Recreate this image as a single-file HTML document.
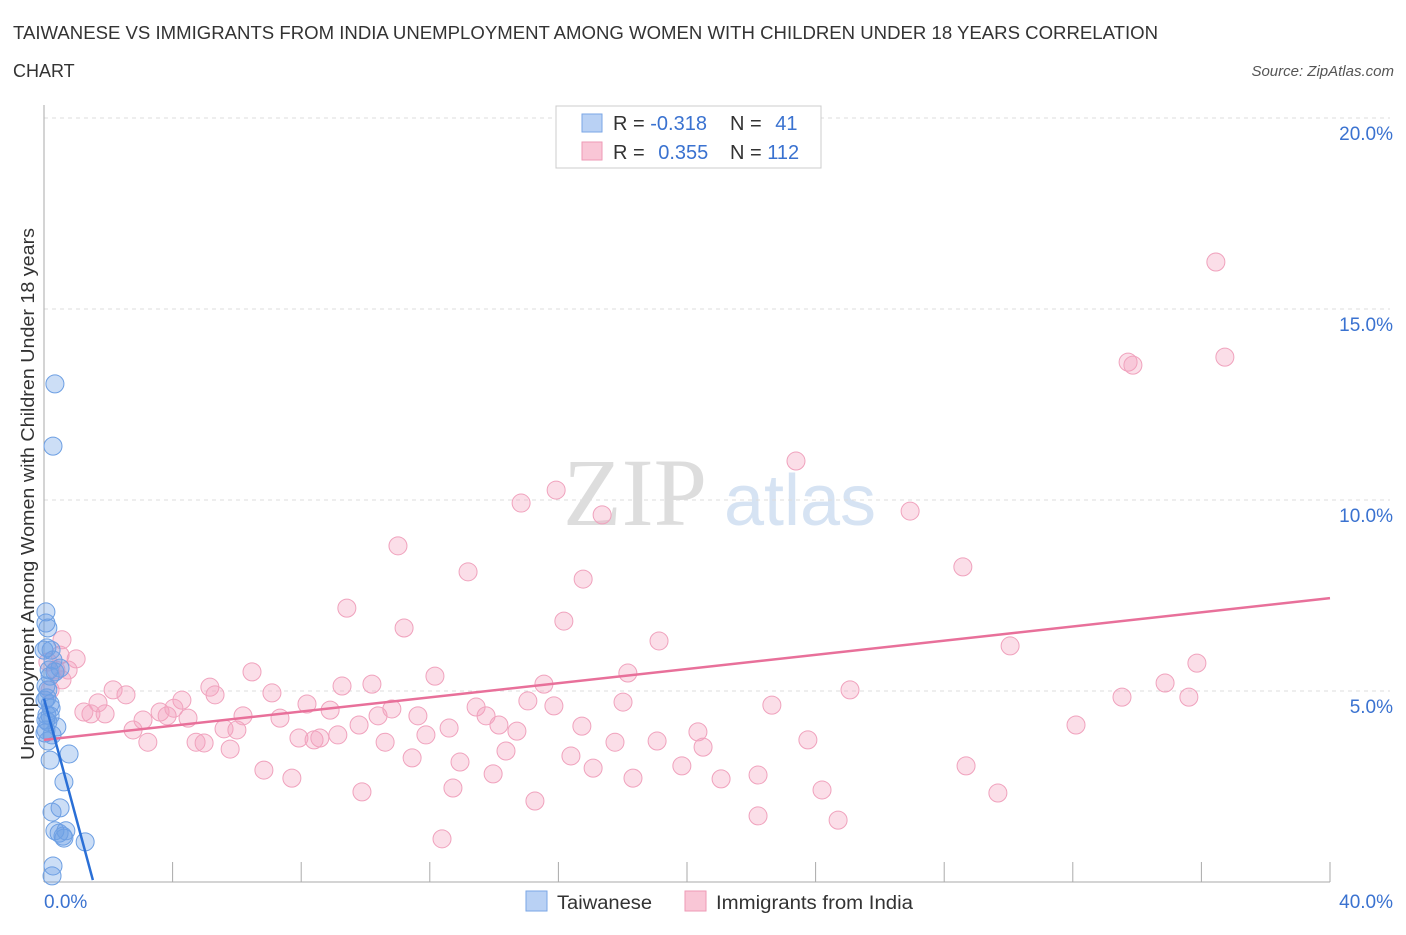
<!DOCTYPE html>
<html><head><meta charset="utf-8"><style>
body{margin:0;background:#fff;font-family:"Liberation Sans",sans-serif;}
</style></head><body>
<svg id="chart" width="1406" height="930" xmlns="http://www.w3.org/2000/svg" font-family="Liberation Sans, sans-serif">
<text x="13" y="39" font-size="18" fill="#333" textLength="1145" lengthAdjust="spacingAndGlyphs">TAIWANESE VS IMMIGRANTS FROM INDIA UNEMPLOYMENT AMONG WOMEN WITH CHILDREN UNDER 18 YEARS CORRELATION</text>
<text x="13" y="77" font-size="18" fill="#333">CHART</text>
<text x="1394" y="76" font-size="15" fill="#555" text-anchor="end" font-style="italic">Source: ZipAtlas.com</text>
<text x="635" y="525" font-size="96" fill="#ddd" text-anchor="middle" font-family="Liberation Serif, serif">ZIP</text>
<text x="800" y="525" font-size="72" fill="#d6e3f3" text-anchor="middle">atlas</text>
<g id="grid"></g><g id="axes"></g><g id="pts"></g><g id="lines"></g>
<text transform="translate(34,494) rotate(-90)" font-size="18" fill="#333" text-anchor="middle" textLength="532" lengthAdjust="spacingAndGlyphs">Unemployment Among Women with Children Under 18 years</text>
<g>
<rect x="556" y="106" width="265" height="62" fill="#fff" stroke="#ccc"/>
<rect x="582" y="114" width="20" height="18" fill="#b9d1f4" stroke="#7aa6e6"/>
<rect x="582" y="142" width="20" height="18" fill="#f9c6d6" stroke="#ee9ab6"/>
<text x="613" y="130" font-size="20" fill="#333">R = <tspan fill="#3a72d0">-0.318</tspan></text>
<text x="730" y="130" font-size="20" fill="#333">N = <tspan fill="#3a72d0" dx="8">41</tspan></text>
<text x="613" y="159" font-size="20" fill="#333">R = <tspan fill="#3a72d0" dx="8">0.355</tspan></text>
<text x="730" y="159" font-size="20" fill="#333">N = <tspan fill="#3a72d0">112</tspan></text>
</g>
<g>
<rect x="526" y="891" width="21" height="20" fill="#b9d1f4" stroke="#7aa6e6"/>
<text x="557" y="909" font-size="19" fill="#333" textLength="95" lengthAdjust="spacingAndGlyphs">Taiwanese</text>
<rect x="685" y="891" width="21" height="20" fill="#f9c6d6" stroke="#ee9ab6"/>
<text x="716" y="909" font-size="19" fill="#333" textLength="197" lengthAdjust="spacingAndGlyphs">Immigrants from India</text>
</g>
</svg>
<script>
const yTicks=[5,10,15,20];
const xTickLabels=["0.0%","40.0%"];
const blueX=[0.34,0.28,0.06,0.06,0.12,0.09,0.22,0.28,0.19,0.06,0.12,0.09,0.03,0.19,0.09,0.19,0.06,0.25,0.40,0.03,0.12,0.78,0.19,0.62,0.25,0.50,0.34,0.59,0.47,0.62,1.28,0.28,0.25,0.06,0.00,0.50,0.34,0.16,0.22,0.12,0.68];
const blueY=[13.04,11.41,7.07,6.78,6.65,6.13,6.07,5.81,5.39,5.13,5.03,4.82,4.76,4.66,4.37,4.35,3.98,3.85,4.06,3.90,3.69,3.35,3.19,2.62,1.83,1.94,1.34,1.20,1.28,1.15,1.05,0.42,0.16,4.24,6.07,5.60,5.50,5.55,4.55,4.19,1.34];
const pinkX=[36.45,33.72,33.87,36.73,23.39,14.84,15.93,17.36,26.94,11.01,13.19,16.77,28.58,9.42,11.20,16.17,19.13,30.05,35.86,1.00,0.50,0.75,2.15,2.55,1.68,1.46,1.24,1.90,3.08,3.61,3.83,4.29,4.04,4.48,5.16,5.32,6.47,7.09,6.19,7.34,8.18,8.90,9.27,10.20,9.80,10.39,10.82,11.63,12.16,12.60,13.44,13.75,14.15,15.05,15.55,15.86,16.73,18.01,18.16,25.07,22.64,33.53,34.87,35.61,32.10,2.77,3.23,4.73,4.98,5.60,6.00,5.79,7.93,8.40,8.58,9.14,10.61,11.45,11.88,12.94,13.97,14.37,14.71,16.39,17.08,17.76,19.07,19.84,20.34,20.50,21.06,22.21,23.76,6.84,7.71,9.89,12.72,15.27,18.32,24.20,28.68,29.67,22.21,24.70,12.38,0.56,0.56,0.37,0.12,0.19];
const pinkY=[16.23,13.61,13.53,13.74,11.02,9.92,10.26,9.61,9.71,8.80,8.12,7.93,8.25,7.17,6.65,6.83,6.31,6.18,5.73,5.84,5.94,5.55,5.03,4.90,4.69,4.40,4.45,4.40,4.24,4.45,4.35,4.76,4.55,4.29,5.10,4.90,5.50,4.95,4.35,4.29,4.66,4.50,5.13,5.18,4.11,4.35,4.53,4.35,5.39,4.03,4.58,4.35,4.11,4.74,5.18,4.61,4.08,4.71,5.47,5.03,4.63,4.84,5.21,4.84,4.11,3.98,3.66,3.66,3.64,4.01,3.98,3.48,3.77,3.72,3.77,3.85,3.66,3.25,3.85,3.14,2.83,3.43,3.95,3.30,2.98,3.66,3.69,3.04,3.93,3.53,2.70,2.80,3.72,2.93,2.72,2.36,2.46,2.12,2.72,2.41,3.04,2.33,1.73,1.62,1.13,6.34,5.29,5.55,5.76,5.03];
const blueTrend=[[0,4.8],[1.52,0.05]];
const pinkTrend=[[0,3.72],[40,7.43]];
const NS="http://www.w3.org/2000/svg";
const xs=v=>44+v*32.15, ys=v=>882-v*38.2;
function mk(tag,attrs,parent){const e=document.createElementNS(NS,tag);for(const k in attrs)e.setAttribute(k,attrs[k]);document.getElementById(parent).appendChild(e);return e;}
yTicks.forEach(t=>{
  const l=mk('line',{x1:44,x2:1390,y1:ys(t),y2:ys(t),stroke:'#ddd','stroke-dasharray':'4,4'},'grid');
  
  
  const tx=mk('text',{x:1393,y:ys(t)+22,'font-size':19,fill:'#3a72d0','text-anchor':'end'},'grid');
  tx.textContent=t.toFixed(1)+'%';
  
  
});
const ax=mk('line',{x1:44,x2:1330,y1:882,y2:882,stroke:'#aaa'},'axes');


const ay=mk('line',{x1:44,x2:44,y1:105,y2:882,stroke:'#aaa'},'axes');


for(let i=0;i<=10;i++){
  const t=mk('line',{x1:xs(i*4),x2:xs(i*4),y1:862,y2:882,stroke:'#aaa'},'axes');
  
  
}
[[0,'start'],[40,'end']].forEach((p,i)=>{
  const tx=mk('text',{x:p[0]==0?44:1393,y:908,'font-size':19,fill:'#3a72d0','text-anchor':p[1]},'axes');
  tx.textContent=xTickLabels[i];
  
  
});
pinkX.forEach((x,i)=>{
  const c=mk('circle',{cx:xs(x),cy:ys(pinkY[i]),r:9,fill:'rgba(244,160,190,0.35)',stroke:'#f0a2bd','stroke-width':1},'pts');
  
  
});
blueX.forEach((x,i)=>{
  const c=mk('circle',{cx:xs(x),cy:ys(blueY[i]),r:9,fill:'rgba(110,160,230,0.35)',stroke:'#6d9fe3','stroke-width':1},'pts');
  
  
});
const pl=mk('line',{x1:xs(pinkTrend[0][0]),y1:ys(pinkTrend[0][1]),x2:xs(pinkTrend[1][0]),y2:ys(pinkTrend[1][1]),stroke:'#e8709a','stroke-width':2.5},'lines');


const bl=mk('line',{x1:xs(blueTrend[0][0]),y1:ys(blueTrend[0][1]),x2:xs(blueTrend[1][0]),y2:ys(blueTrend[1][1]),stroke:'#2a6fd6','stroke-width':2.5},'lines');


</script>
</body></html>
